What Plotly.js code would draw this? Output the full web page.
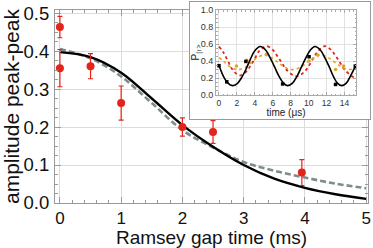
<!DOCTYPE html>
<html><head><meta charset="utf-8">
<script src="https://cdn.plot.ly/plotly-3.0.1.min.js"></script>
<style>
body{margin:0;width:373px;height:248px;position:relative;overflow:hidden;background:#fff}
#main{position:absolute;left:0;top:0;width:373px;height:248px}
#inset{position:absolute;left:189px;top:1px;width:182px;height:119px;border:1.5px solid #9a9a9a;background:#fff;box-sizing:border-box}
</style></head><body>
<div id="main"></div><div id="inset"></div>
<script>
// ---- main panel data ----
const gapTime = [0, 0, 0.5, 1, 2, 2.5, 3.95];
const ampPP = [0.463, 0.355, 0.36, 0.263, 0.2, 0.187, 0.08];
const ampErr = [0.028, 0.049, 0.033, 0.045, 0.024, 0.03, 0.034];
const fitTime = [0, 0.5, 1, 1.5, 2, 2.5, 3, 3.5, 4, 4.5, 5];
const fitSolid = [0.397, 0.384, 0.343, 0.275, 0.205, 0.148, 0.1, 0.064, 0.04, 0.023, 0.011];
const fitDashed = [0.405, 0.381, 0.333, 0.263, 0.192, 0.146, 0.108, 0.085, 0.067, 0.051, 0.039];
const mainXTicks = [0, 1, 2, 3, 4, 5];
const mainYTicks = [0, 0.1, 0.2, 0.3, 0.4, 0.5];

// ---- inset data ----
const blackT = [0,0.5,1,1.5,2,2.5,3,3.5,4,4.6,5.2,5.7,6.2,6.7,7.2,7.65,8.2,8.7,9.2,9.7,10.2,10.7,11.3,11.8,12.3,12.8,13.2,13.7,14.2,14.7,15.3];
const blackP = [0.35,0.22,0.14,0.11,0.13,0.2,0.3,0.42,0.52,0.57,0.53,0.44,0.33,0.22,0.14,0.11,0.14,0.22,0.33,0.44,0.53,0.57,0.53,0.44,0.33,0.21,0.14,0.11,0.14,0.23,0.36];
const blackPtT = [0, 0.87, 3.0, 7.1, 10.05, 13.0, 15.2];
const blackPtP = [0.345, 0.155, 0.395, 0.13, 0.45, 0.124, 0.34];
const redT = [0,0.5,1,1.5,2.3,3,3.5,4,4.5,5.3,6,6.5,7,7.5,8.6,9.5,10,10.5,11,11.8,12.5,13,13.5,14,15,15.3];
const redP = [0.57,0.5,0.4,0.3,0.23,0.27,0.34,0.43,0.52,0.575,0.53,0.46,0.38,0.3,0.22,0.27,0.34,0.43,0.51,0.575,0.53,0.46,0.38,0.3,0.21,0.21];
const orangeT = [0,0.5,1,2,3,4,5,6,7,8,9,10,11,11.5,12.5,13.5,14.5,15.3];
const orangeP = [0.44,0.4,0.35,0.3,0.33,0.42,0.47,0.43,0.35,0.3,0.32,0.4,0.46,0.47,0.42,0.34,0.3,0.32];
const orangePtT = [1.95, 3.1, 5.3, 10.05, 11.0, 13.0, 13.9];
const orangePtP = [0.34, 0.41, 0.48, 0.4, 0.47, 0.3, 0.34];
const insetXTicks = [0,2,4,6,8,10,12,14];
const insetYTicks = [0,0.2,0.4,0.6,0.8,1.0];

const RED = '#e3241b', ORANGE = '#e0a526', GREY = '#7e8c8d';
const FONT = 'Liberation Sans, Arial, sans-serif';

Plotly.newPlot('main', [
  {x: fitTime, y: fitDashed, mode: 'lines', line: {color: GREY, width: 2.6, dash: '6px,3px', shape: 'spline'}, hoverinfo: 'skip'},
  {x: fitTime, y: fitSolid, mode: 'lines', line: {color: '#000', width: 2.4, shape: 'spline'}, hoverinfo: 'skip'},
  {x: gapTime, y: ampPP, mode: 'markers', marker: {color: RED, size: 8},
   error_y: {type: 'data', array: ampErr, color: RED, thickness: 1.2, width: 2.5}}
], {
  width: 373, height: 248, showlegend: false,
  margin: {l: 55, r: 5, t: 10, b: 45},
  paper_bgcolor: '#fff', plot_bgcolor: '#fff',
  font: {family: FONT, color: '#111'},
  xaxis: {range: [-0.08, 5.03], tickvals: mainXTicks, ticktext: mainXTicks.map(String),
    showline: true, linecolor: '#9a9a9a', linewidth: 1, mirror: 'ticks',
    ticks: 'inside', ticklen: 6, tickcolor: '#9a9a9a', showgrid: true, gridcolor: '#dcdcdc', zeroline: false,
    minor: {dtick: 0.2, tick0: 0, ticks: 'inside', ticklen: 3, tickcolor: '#9a9a9a'},
    tickfont: {size: 17}, ticklabelstandoff: 0,
    title: {text: 'Ramsey gap time (ms)', font: {size: 19}, standoff: 5}},
  yaxis: {range: [0, 0.508], tickvals: mainYTicks, ticktext: mainYTicks.map(v => v.toFixed(1)),
    showline: true, linecolor: '#9a9a9a', linewidth: 1, mirror: 'ticks',
    ticks: 'inside', ticklen: 6, tickcolor: '#9a9a9a', showgrid: true, gridcolor: '#dcdcdc', zeroline: false,
    minor: {dtick: 0.025, tick0: 0, ticks: 'inside', ticklen: 3, tickcolor: '#9a9a9a'},
    tickfont: {size: 18.5}, ticklabelstandoff: 1,
    title: {text: 'amplitude peak-peak', font: {size: 21}, standoff: 3}}
}, {staticPlot: true});

Plotly.newPlot('inset', [
  {x: redT, y: redP, mode: 'lines', line: {color: RED, width: 1.8, dash: 'dot', shape: 'spline'}},
  {x: orangeT, y: orangeP, mode: 'lines', line: {color: ORANGE, width: 1.6, dash: 'dot', shape: 'spline'}},
  {x: orangePtT, y: orangePtP, mode: 'markers', marker: {color: ORANGE, size: 3.5}},
  {x: blackT, y: blackP, mode: 'lines', line: {color: '#000', width: 1.6, shape: 'spline'}},
  {x: blackPtT, y: blackPtP, mode: 'markers', marker: {color: '#000', size: 3.5, symbol: 'square'}}
], {
  width: 179, height: 116, showlegend: false,
  margin: {l: 26, r: 12.5, t: 8, b: 23},
  paper_bgcolor: '#fff', plot_bgcolor: '#fff',
  font: {family: FONT, color: '#333'},
  xaxis: {range: [-0.33, 15.28], tickvals: insetXTicks, ticktext: insetXTicks.map(String),
    showline: true, linecolor: '#aaa', linewidth: 1, mirror: 'ticks',
    ticks: 'inside', ticklen: 3, tickcolor: '#aaa', showgrid: true, gridcolor: '#e2e2e2', zeroline: false,
    minor: {dtick: 0.5, tick0: 0, ticks: 'inside', ticklen: 1.5, tickcolor: '#aaa'},
    tickfont: {size: 8.5}, ticklabelstandoff: 0,
    title: {text: 'time (μs)', font: {size: 10, color: '#222'}, standoff: 2}},
  yaxis: {range: [0, 1.0], tickvals: insetYTicks, ticktext: insetYTicks.map(v => v.toFixed(1)),
    showline: true, linecolor: '#aaa', linewidth: 1, mirror: 'ticks',
    ticks: 'inside', ticklen: 3, tickcolor: '#aaa', showgrid: true, gridcolor: '#e2e2e2', zeroline: false,
    minor: {dtick: 0.05, tick0: 0, ticks: 'inside', ticklen: 1.5, tickcolor: '#aaa'},
    tickfont: {size: 9}, ticklabelstandoff: 0,
    title: {text: 'P<sub>|↑></sub>', font: {size: 10, color: '#222'}, standoff: 1}}
}, {staticPlot: true});
</script>
</body></html>
